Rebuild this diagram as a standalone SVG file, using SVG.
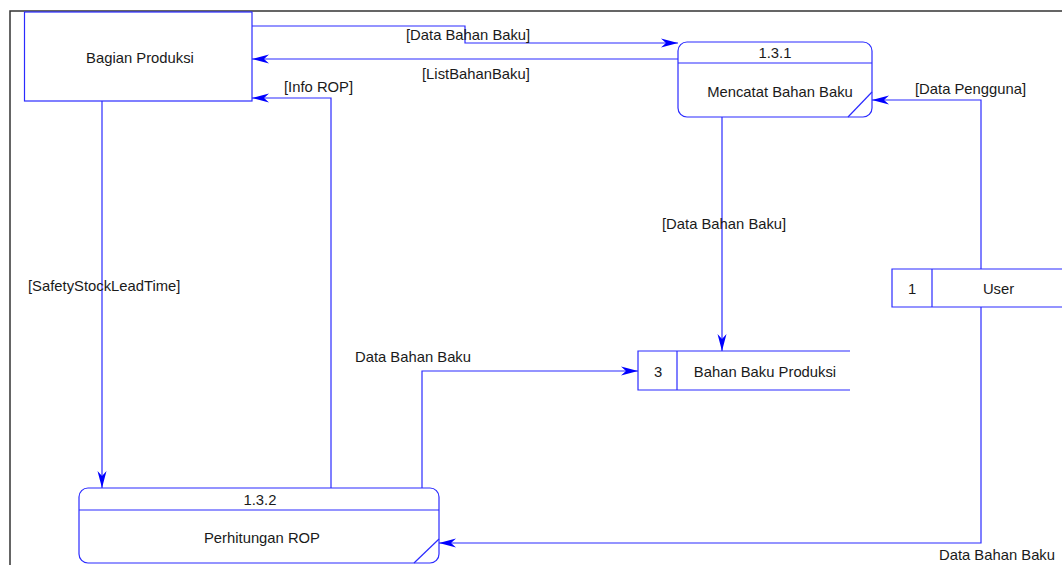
<svg xmlns="http://www.w3.org/2000/svg" width="1062" height="565" viewBox="0 0 1062 565">
<style>
.t{font-family:"Liberation Sans",Arial,sans-serif;font-size:14.8px;fill:#1a1a1a}
.m{text-anchor:middle}
.n{fill:#fff;stroke:#2b2bff;stroke-width:1.2}
.l{fill:none;stroke:#2b2bff;stroke-width:1.2}
.c{fill:none;stroke:#2b2bff;stroke-width:1.2}
</style>
<defs>
<marker id="a" markerUnits="userSpaceOnUse" markerWidth="20" markerHeight="12" viewBox="-17 -6 18 12" refX="0" refY="0" orient="auto">
<path d="M0,0 L-17,-4.5 L-12,0 L-17,4.5 Z" fill="#0000ff"/>
</marker>
</defs>
<rect x="10" y="11" width="1100" height="600" fill="#fff" stroke="#333" stroke-width="1.5"/>
<g id="bagian-produksi">
<rect class="n" x="24.5" y="12" width="227.5" height="89"/>
<text class="t m" x="140" y="62.5">Bagian Produksi</text>
</g>
<g id="p131">
<rect class="n" x="678" y="42" width="194" height="75" rx="9"/>
<line class="l" x1="678" y1="63" x2="872" y2="63"/>
<line class="l" x1="872" y1="92" x2="848" y2="117"/>
<text class="t m" x="775" y="58">1.3.1</text>
<text class="t m" x="780" y="97">Mencatat Bahan Baku</text>
</g>
<g id="p132">
<rect class="n" x="79" y="488" width="360" height="75" rx="9"/>
<line class="l" x1="79" y1="510" x2="439" y2="510"/>
<line class="l" x1="439" y1="539" x2="414" y2="563"/>
<text class="t m" x="260" y="504.5">1.3.2</text>
<text class="t m" x="262" y="542.5">Perhitungan ROP</text>
</g>
<g id="store3">
<path class="l" d="M850,351 H638 V390 H850 M677,351 V390"/>
<text class="t m" x="658" y="377">3</text>
<text class="t m" x="765" y="377">Bahan Baku Produksi</text>
</g>
<g id="user">
<path class="l" d="M1070,269 H892 V307 H1070 M932,269 V307"/>
<text class="t m" x="912" y="293.5">1</text>
<text class="t m" x="998.5" y="293.5">User</text>
</g>
<g id="connectors">
<polyline class="c" points="252,26 465,26 465,43 678,43" marker-end="url(#a)"/>
<polyline class="c" points="678,59 252,59" marker-end="url(#a)"/>
<polyline class="c" points="331,488 331,98 252,98" marker-end="url(#a)"/>
<polyline class="c" points="981,269 981,100 872,100" marker-end="url(#a)"/>
<polyline class="c" points="722,117 722,351" marker-end="url(#a)"/>
<polyline class="c" points="102,101 102,488" marker-end="url(#a)"/>
<polyline class="c" points="422,488 422,371 638,371" marker-end="url(#a)"/>
<polyline class="c" points="981,307 981,543 439,543" marker-end="url(#a)"/>
<text class="t" x="406" y="40">[Data Bahan Baku]</text>
<text class="t" x="422" y="79">[ListBahanBaku]</text>
<text class="t" x="284" y="92">[Info ROP]</text>
<text class="t" x="915" y="94">[Data Pengguna]</text>
<text class="t" x="662" y="229">[Data Bahan Baku]</text>
<text class="t" x="28" y="291">[SafetyStockLeadTime]</text>
<text class="t" x="355" y="362">Data Bahan Baku</text>
<text class="t" x="939" y="560">Data Bahan Baku</text>
</g>
</svg>
